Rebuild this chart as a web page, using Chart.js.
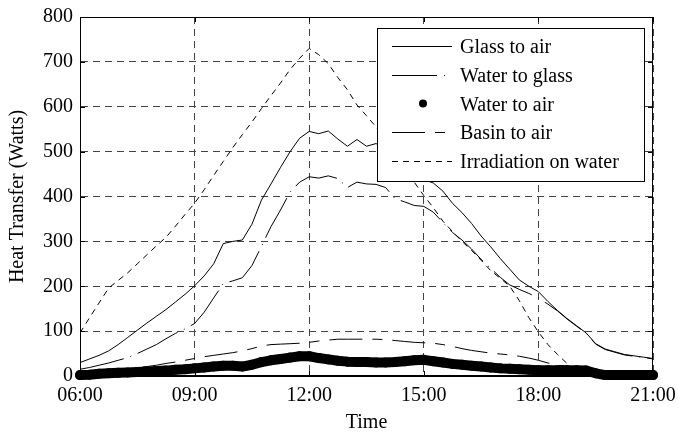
<!DOCTYPE html>
<html><head><meta charset="utf-8">
<script src="https://cdn.jsdelivr.net/npm/chart.js@4"></script>
<style>html,body{margin:0;padding:0;background:#fff}</style>
</head><body>
<canvas id="c" width="678" height="432"></canvas>
<script>
// ---- data (hours of day) ----
const times = [6,6.25,6.5,6.75,7,7.25,7.5,7.75,8,8.25,8.5,8.75,9,9.25,9.5,9.75,10,10.25,10.5,10.75,11,11.25,11.5,11.75,12,12.25,12.5,12.75,13,13.25,13.5,13.75,14,14.25,14.5,14.75,15,15.25,15.5,15.75,16,16.25,16.5,16.75,17,17.25,17.5,17.75,18,18.25,18.5,18.75,19,19.25,19.5,19.75,20,20.25,20.5,20.75,21];
const glassToAir = [30,38,46,56,70,86,102,118,133,148,165,182,201,223,250,295,300,303,338,392,428,465,500,530,545,540,546,528,512,527,512,518,505,490,470,450,438,430,412,385,364,340,312,288,262,238,214,200,188,166,146,128,112,96,72,60,54,48,45,42,39];
const waterToGlass = [15,19,24,29,35,41,50,60,70,83,95,105,117,142,174,206,212,219,246,289,333,370,410,432,444,441,446,440,420,432,428,427,420,395,388,380,378,365,342,320,303,283,260,240,220,203,193,184,174,160,145,127,111,95,71,59,53,47,44,41,38];
const waterToAir = [2,3,5,6,7,8,9,10,11,12,14,15,17,19,21,23,23,21,25,31,35,38,41,44,44,40,37,34,32,31,31,30,30,31,33,35,36,33,30,27,25,23,21,19,17,16,15,14,13,13,13,13,13,12,6,2,2,2,2,2,2];
const basinToAir = [6,8,10,12,14,16,19,21,24,28,31,35,39,43,46,49,52,56,61,67,70,71,72,73,75,78,80,82,82,82,82,82,81,79,77,75,74,73,70,66,61,57,54,51,49,47,44,40,35,29,24,22,18,14,10,6,4,3,2,2,2];
const irradiation = [96,130,163,196,213,230,250,270,290,309,334,360,385,415,447,478,509,538,566,596,625,653,683,708,730,716,696,665,638,604,580,555,527,497,466,432,402,375,345,322,300,280,258,235,218,200,168,130,98,70,48,28,10,2,0,0,0,0,0,0,0];
const seriesNames = ['Glass to air','Water to glass','Water to air','Basin to air','Irradiation on water'];
const xTickValues = [6,9,12,15,18,21];
const xTickLabels = ['06:00','09:00','12:00','15:00','18:00','21:00'];
const yTickValues = [0,100,200,300,400,500,600,700,800];

const FONT = 'Liberation Serif, Times New Roman, serif';
const pts = arr => times.map((t,i)=>({x:t, y:arr[i]}));

const styles = [
  {dash:[], width:1},
  {dash:[45,7,1,7], width:1},
  {dash:[], width:10, dot:true},
  {dash:[33,10,10,10], width:1},
  {dash:[6,5], width:1}
];
const seriesData = [glassToAir, waterToGlass, waterToAir, basinToAir, irradiation];

const datasets = seriesData.map((arr,i)=>{
  const s = styles[i];
  const d = {
    label: seriesNames[i], data: pts(arr),
    borderColor:'#000', backgroundColor:'#000',
    borderWidth: s.width, borderDash: s.dash,
    pointRadius: 0, fill:false, tension:0
  };
  if (s.dot) {
    d.pointRadius = 5; d.pointBackgroundColor = '#000'; d.pointBorderWidth = 0;
    d.borderCapStyle = 'round'; d.borderJoinStyle = 'round'; d.clip = 8;
  }
  return d;
});

const framePlugin = {
  id:'frame',
  afterDatasetsDraw(chart){
    const {ctx, chartArea:a, scales:{x,y}} = chart;
    ctx.save();
    ctx.setLineDash([]);
    ctx.strokeStyle = '#000'; ctx.lineWidth = 1;
    ctx.strokeRect(Math.round(a.left)+0.5, Math.round(a.top)+0.5, Math.round(a.right-a.left)-1, Math.round(a.bottom-a.top)-1);
    // inner tick marks
    ctx.beginPath();
    xTickValues.forEach(v=>{
      const px = Math.round(x.getPixelForValue(v))+0.5;
      ctx.moveTo(px, a.bottom); ctx.lineTo(px, a.bottom-5);
      ctx.moveTo(px, a.top); ctx.lineTo(px, a.top+5);
    });
    yTickValues.forEach(v=>{
      const py = Math.round(y.getPixelForValue(v))+0.5;
      ctx.moveTo(a.left, py); ctx.lineTo(a.left+5, py);
      ctx.moveTo(a.right, py); ctx.lineTo(a.right-5, py);
    });
    ctx.stroke();
    // legend
    const bx = 377.5, by = 28.5, bw = 267, bh = 153;
    ctx.fillStyle = '#fff';
    ctx.fillRect(bx, by, bw, bh);
    ctx.strokeRect(bx, by, bw, bh);
    ctx.font = '20px ' + FONT;
    ctx.textBaseline = 'middle';
    ctx.textAlign = 'left';
    chart.data.datasets.forEach((ds,i)=>{
      const ry = 46 + i*28.7;
      const s = styles[i];
      ctx.strokeStyle = '#000'; ctx.fillStyle = '#000';
      if (s.dot) {
        ctx.beginPath(); ctx.arc(423, ry, 4, 0, Math.PI*2); ctx.fill();
      } else {
        ctx.lineWidth = 1; ctx.setLineDash(s.dash);
        ctx.beginPath(); ctx.moveTo(392, Math.round(ry)+0.5); ctx.lineTo(452, Math.round(ry)+0.5); ctx.stroke();
        ctx.setLineDash([]);
      }
      ctx.fillText(ds.label, 460, ry + 2);
    });
    ctx.restore();
  }
};

new Chart(document.getElementById('c'), {
  type:'line',
  data:{datasets},
  plugins:[framePlugin],
  options:{
    responsive:false, animation:false, devicePixelRatio:1,
    layout:{padding:{top:17, right:25, left:0, bottom:0}},
    plugins:{legend:{display:false}, tooltip:{enabled:false}},
    scales:{
      x:{
        type:'linear', min:6, max:21,
        afterBuildTicks: s => { s.ticks = xTickValues.map(v=>({value:v})); },
        afterFit: s => { s.height = 56; s.paddingLeft = 0; s.paddingRight = 0; },
        ticks:{
          callback: v => xTickLabels[xTickValues.indexOf(v)],
          font:{family:FONT, size:20}, color:'#000', padding:8, maxRotation:0, autoSkip:false
        },
        grid:{color:'#444', lineWidth:1, drawTicks:false},
        border:{display:true, color:'#000', width:1, dash:[7,5]},
        title:{display:true, text:'Time', font:{family:FONT, size:20, lineHeight:0.8}, color:'#000', padding:{top:0, bottom:1}}
      },
      y:{
        min:0, max:800,
        afterBuildTicks: s => { s.ticks = yTickValues.map(v=>({value:v})); },
        afterFit: s => { s.width = 80; s.paddingTop = 0; s.paddingBottom = 0; },
        ticks:{font:{family:FONT, size:20}, color:'#000', padding:7},
        grid:{color:'#444', lineWidth:1, drawTicks:false},
        border:{display:true, color:'#000', width:1, dash:[7,5]},
        title:{display:true, text:'Heat Transfer (Watts)', font:{family:FONT, size:20, lineHeight:1}, color:'#000', padding:{top:8, bottom:0}}
      }
    }
  }
});
</script>
</body></html>
